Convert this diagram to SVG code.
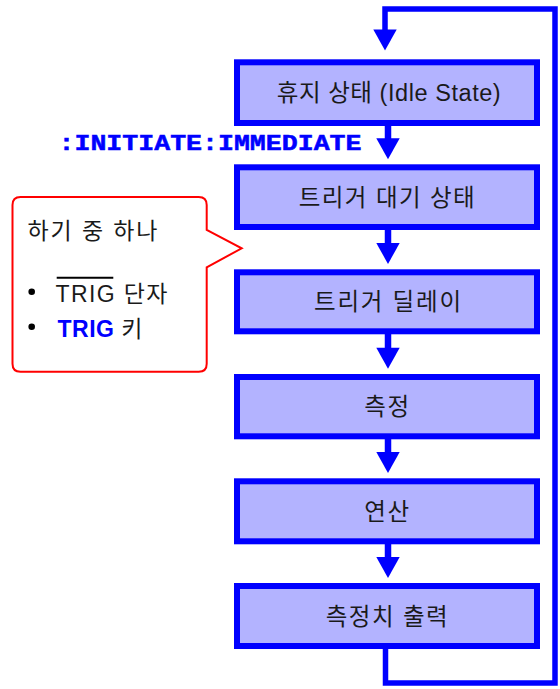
<svg xmlns="http://www.w3.org/2000/svg" xmlns:xlink="http://www.w3.org/1999/xlink" width="560" height="689" viewBox="0 0 560 689">
<style>
.box{fill:#B3B3FF;stroke:#0000FF;stroke-width:6}
.bt{font-family:"Liberation Sans","Noto Sans CJK KR",sans-serif;font-size:23.5px;fill:#1a1a1a;text-anchor:middle}
.ln{fill:none;stroke:#0000FF;stroke-width:5.5}
.sh{fill:none;stroke:#0000FF;stroke-width:6.5}
.ah{fill:#0000FF}
.ct{font-family:"Liberation Sans","Noto Sans CJK KR",sans-serif;font-size:23px;fill:#1a1a1a}
</style>
<defs>
<path id="head" d="M-11.7,0 L11.7,0 L0,21 Z"/>
</defs>
<rect width="560" height="689" fill="#FFFFFF"/>
<g id="connectors">
<path class="ln" d="M385.5,649 V683 H555 V9 H385 V32"/>
<use href="#head" class="ah" x="385" y="29.5"/>
<path class="sh" d="M388,126 V140"/>
<use href="#head" class="ah" x="388" y="138.3"/>
<path class="sh" d="M388,230 V245"/>
<use href="#head" class="ah" x="388" y="243"/>
<path class="sh" d="M388,334 V350"/>
<use href="#head" class="ah" x="388" y="347.8"/>
<path class="sh" d="M388,439 V454"/>
<use href="#head" class="ah" x="388" y="452"/>
<path class="sh" d="M388,544 V559"/>
<use href="#head" class="ah" x="388" y="557"/>
<text x="58.5" y="150" textLength="303" lengthAdjust="spacingAndGlyphs" font-family="'Liberation Mono',monospace" font-weight="bold" font-size="22" fill="#0000FF" stroke="#0000FF" stroke-width="0.5">:INITIATE:IMMEDIATE</text>
</g>
<g id="idle">
<rect class="box" x="237" y="62.3" width="300" height="60.7"/>
<text class="bt" x="388.7" y="101.2" textLength="224" lengthAdjust="spacing">휴지 상태 (Idle State)</text>
</g>
<g id="wait">
<rect class="box" x="237" y="167.3" width="300" height="59.7"/>
<text class="bt" x="386.7" y="205.7" textLength="176" lengthAdjust="spacing">트리거 대기 상태</text>
</g>
<g id="delay">
<rect class="box" x="237" y="272.3" width="300" height="59"/>
<text class="bt" x="387.5" y="310.3" textLength="147" lengthAdjust="spacing">트리거 딜레이</text>
</g>
<g id="measure">
<rect class="box" x="237" y="377" width="300" height="59.3"/>
<text class="bt" x="386.7" y="415.2" textLength="45" lengthAdjust="spacing">측정</text>
</g>
<g id="calc">
<rect class="box" x="237" y="481.3" width="300" height="60"/>
<text class="bt" x="386.7" y="519.8" textLength="45" lengthAdjust="spacing">연산</text>
</g>
<g id="output">
<rect class="box" x="237" y="586" width="300" height="60"/>
<text class="bt" x="386.7" y="624.5" textLength="122" lengthAdjust="spacing">측정치 출력</text>
</g>
<g id="callout">
<path d="M20.5,197 H198.7 Q206.7,197 206.7,205 V230 L241.7,248.3 L206.7,267.3 V363.7 Q206.7,371.7 198.7,371.7 H20.5 Q12.5,371.7 12.5,363.7 V205 Q12.5,197 20.5,197 Z" fill="#FFFFFF" stroke="#FF0000" stroke-width="2"/>
<text class="ct" x="27.5" y="238.5" font-size="23.5" textLength="130" lengthAdjust="spacing">하기 중 하나</text>
<circle cx="31.7" cy="291.7" r="3.3" fill="#000000"/>
<text class="ct" x="55.5" y="301.7" textLength="112" lengthAdjust="spacing">TRIG 단자</text>
<line x1="56.7" y1="277.8" x2="113.3" y2="277.8" stroke="#000000" stroke-width="2"/>
<circle cx="31.7" cy="326.7" r="3.3" fill="#000000"/>
<text class="ct" x="57.5" y="336.7" textLength="85" lengthAdjust="spacing"><tspan fill="#0000FF" font-weight="bold">TRIG</tspan> 키</text>
</g>
</svg>
